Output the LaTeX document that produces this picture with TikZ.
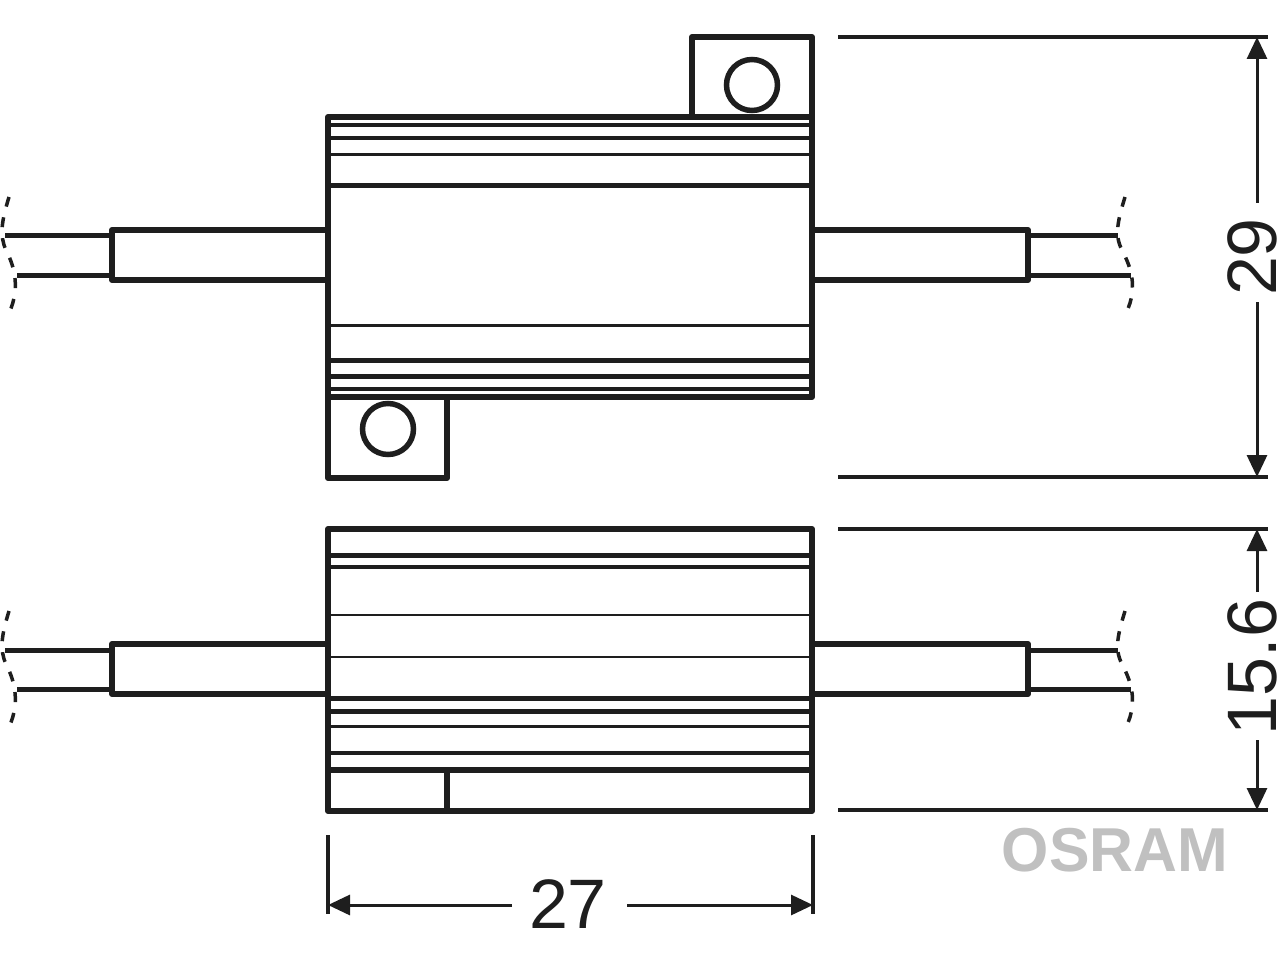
\documentclass[tikz,border=0pt]{standalone}
\usepackage{fontspec}
\setmainfont{Liberation Sans}
\usepackage{xcolor}
\usetikzlibrary{arrows.meta}
\definecolor{ink}{RGB}{30,30,30}
\definecolor{logo}{RGB}{192,192,192}

\begin{document}
\begin{tikzpicture}[
    x=1pt, y=-1pt,
    outline/.style={draw=ink, line width=6pt, line join=round},
    rib/.style={draw=ink, line width=#1},
    rib/.default=3pt,
    wire/.style={draw=ink, line width=5pt},
    breakline/.style={draw=ink, line width=3.5pt, dash pattern=on 10pt off 11pt},
    extline/.style={draw=ink, line width=3.5pt},
    dim/.style={draw=ink, line width=3pt, -{Triangle[length=22pt,width=20pt]}},
    dimtext/.style={font=\fontsize{70}{70}\selectfont, text=ink, inner sep=0pt}
]
    \useasboundingbox (0,0) rectangle (1280,960);

    % Leads, same for both views
    \foreach \dy in {0,414} {
        \begin{scope}[shift={(0,\dy)}]
            \draw[outline] (328,230) -- (112,230) -- (112,280) -- (328,280);
            \draw[wire] (5,236) -- (112,236);
            \draw[wire] (17,275) -- (112,275);
            \draw[outline] (813,230) -- (1028,230) -- (1028,280) -- (813,280);
            \draw[wire] (1028,236) -- (1118,236);
            \draw[wire] (1028,275) -- (1131,275);
            \draw[breakline] (9,197) .. controls (2,220) and (-1,235) .. (6,250) .. controls (12,262) and (22,285) .. (9,313);
            \draw[breakline] (1125,197) .. controls (1118,220) and (1114,235) .. (1122,250) .. controls (1128,262) and (1140,285) .. (1126,313);
        \end{scope}
    }

    % Top view
    \draw[outline] (692,117) -- (692,37) -- (812,37) -- (812,117);
    \node[draw=ink, line width=5.5pt, circle, minimum size=51pt, inner sep=0pt] (holetop) at (752,85) {};
    \draw[outline] (328,397) -- (328,478) -- (447,478) -- (447,397);
    \node[draw=ink, line width=5.5pt, circle, minimum size=51pt, inner sep=0pt] (holebot) at (388,429) {};
    \draw[outline, fill=white] (328,117) rectangle (812,397);
    \foreach \yy/\ww in {125/4.5pt,138/4pt,155/3pt,186/5pt,325/3pt,360/5pt,376/5pt,389/4pt}
        \draw[rib=\ww] (328,\yy) -- (812,\yy);

    % Side view
    \draw[outline, fill=white] (328,529) rectangle (812,811);
    \foreach \yy/\ww in {555/5pt,567/4pt,615/2.5pt,657/2.5pt,698/5pt,711/5pt,726/3pt,753/4.5pt,770/6pt}
        \draw[rib=\ww] (328,\yy) -- (812,\yy);
    \draw[rib=6pt] (447,770) -- (447,811);

    % Height dimension, top view
    \draw[extline] (838,37) -- (1268,37);
    \draw[extline] (838,477) -- (1268,477);
    \node[dimtext, rotate=90] (htop) at (1252,257) {29};
    \coordinate (htopa) at (1257,203);
    \coordinate (htopb) at (1257,302);
    \coordinate (htopc) at (1257,37);
    \coordinate (htopd) at (1257,477);
    \draw[dim] (htopa) -- (htopc);
    \draw[dim] (htopb) -- (htopd);

    % Height dimension, side view
    \draw[extline] (838,529) -- (1268,529);
    \draw[extline] (838,810) -- (1268,810);
    \node[dimtext, rotate=90] (hside) at (1252,667) {15.6};
    \coordinate (hsidea) at (1257,592);
    \coordinate (hsideb) at (1257,740);
    \coordinate (hsidec) at (1257,529);
    \coordinate (hsided) at (1257,810);
    \draw[dim] (hsidea) -- (hsidec);
    \draw[dim] (hsideb) -- (hsided);

    % Width dimension
    \draw[extline] (328,835) -- (328,914);
    \draw[extline] (813,835) -- (813,914);
    \node[dimtext] (wside) at (568,904) {27};
    \coordinate (wsidea) at (512,905);
    \coordinate (wsideb) at (627,905);
    \coordinate (wsidec) at (328,905);
    \coordinate (wsided) at (813,905);
    \draw[dim] (wsidea) -- (wsidec);
    \draw[dim] (wsideb) -- (wsided);

    % Logo
    \node[font=\fontsize{62}{62}\selectfont\bfseries, text=logo, inner sep=0pt, xscale=0.98] (brand) at (1115,850) {OSRAM};
\end{tikzpicture}
\end{document}
